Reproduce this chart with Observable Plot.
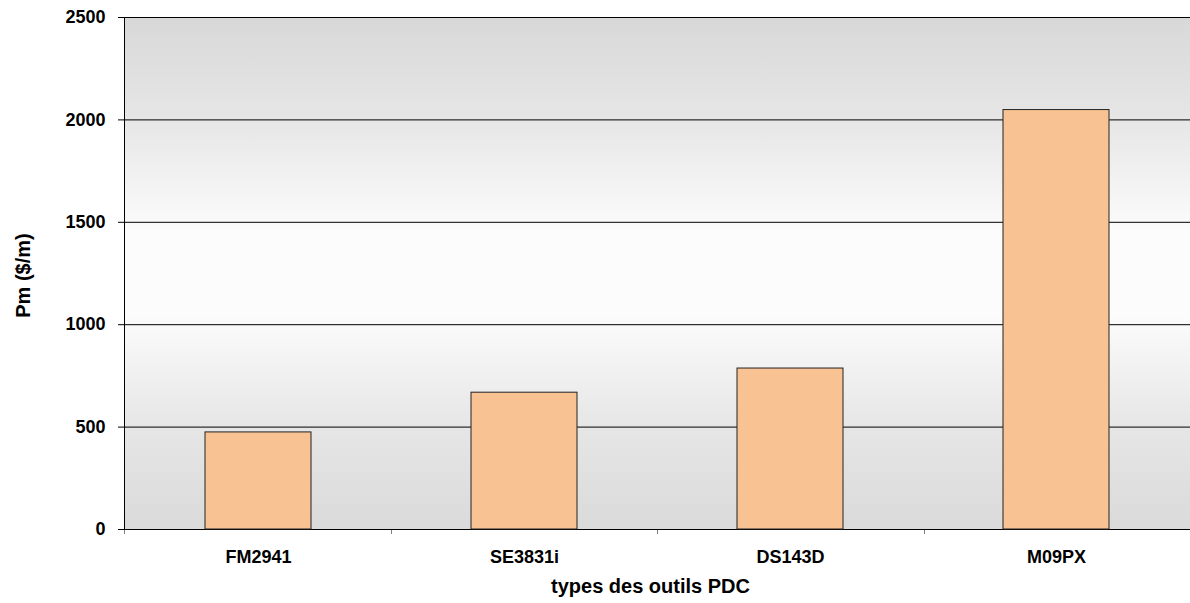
<!DOCTYPE html>
<html>
<head>
<meta charset="utf-8">
<script src="https://cdn.jsdelivr.net/npm/d3@7"></script>
<script src="https://cdn.jsdelivr.net/npm/@observablehq/plot@0.6"></script>
<style>
  html, body { margin: 0; padding: 0; background: #fff; }
</style>
</head>
<body>
<div id="chart"></div>
<script>
const categories = ["FM2941", "SE3831i", "DS143D", "M09PX"];
const values = [474, 668, 786, 2048];
const yTicks = [0, 500, 1000, 1500, 2000, 2500];
const xTitle = "types des outils PDC";
const yTitle = "Pm ($/m)";

const data = categories.map((c, i) => ({category: c, value: values[i]}));

function decorations(index, scales, vals, dims) {
  const {width, height, marginLeft, marginRight, marginTop, marginBottom} = dims;
  const g = d3.create("svg:g");
  const defs = g.append("defs");
  const grad = defs.append("linearGradient")
    .attr("id", "bgGrad").attr("x1", 0).attr("y1", 0).attr("x2", 0).attr("y2", 1);
  [[0, "#d8d8d8"], [0.2, "#e6e6e6"], [0.42, "#fcfcfc"], [0.58, "#fcfcfc"], [0.8, "#e6e6e6"], [1, "#dadada"]]
    .forEach(([o, c]) => grad.append("stop").attr("offset", o).attr("stop-color", c));
  const x0 = marginLeft, x1 = width - marginRight, y1 = height - marginBottom;
  g.append("rect").attr("x", x0).attr("y", marginTop)
    .attr("width", x1 - x0).attr("height", y1 - marginTop).attr("fill", "url(#bgGrad)");
  // category boundary ticks on the x axis
  const step = (x1 - x0) / categories.length;
  for (let i = 0; i <= categories.length; i++) {
    const xx = Math.round(x0 + i * step) + 0.5;
    g.append("line").attr("x1", xx).attr("x2", xx).attr("y1", y1).attr("y2", y1 + 5)
      .attr("stroke", "#808080");
  }
  return g.node();
}

function leftLine(index, scales, vals, dims) {
  const {height, marginLeft, marginTop, marginBottom} = dims;
  const g = d3.create("svg:g");
  g.append("line").attr("x1", marginLeft + 0.5).attr("x2", marginLeft + 0.5)
    .attr("y1", marginTop).attr("y2", height - marginBottom)
    .attr("stroke", "#000");
  return g.node();
}

const chart = Plot.plot({
  width: 1190,
  height: 603,
  marginLeft: 124,
  marginRight: 0,
  marginTop: 17,
  marginBottom: 74,
  style: {fontFamily: "'Liberation Sans', Arial, sans-serif", fontWeight: "bold", fontSize: "18px", color: "#000", background: "#fff"},
  x: {domain: categories, paddingInner: 0.6, paddingOuter: 0.3, align: 0.5, tickSize: 0, tickPadding: 21, label: null},
  y: {domain: [0, 2500], ticks: yTicks, tickSize: 6, tickPadding: 13, label: null, tickFormat: d => String(d)},
  marks: [
    decorations,
    Plot.ruleY(yTicks, {stroke: "#000", strokeWidth: 1}),
    Plot.barY(data, {x: "category", y: "value", fill: "#f9c292", stroke: "#222", strokeWidth: 1}),
    leftLine,
    Plot.text([xTitle], {frameAnchor: "bottom", dx: -7, dy: 57, textAnchor: "middle", lineAnchor: "middle", fontSize: 20, fontWeight: "bold", fill: "#000"}),
    Plot.text([yTitle], {frameAnchor: "left", dx: -101, dy: 2, rotate: -90, textAnchor: "middle", lineAnchor: "middle", fontSize: 20, fontWeight: "bold", fill: "#000"})
  ]
});
document.getElementById("chart").appendChild(chart);
</script>
</body>
</html>
